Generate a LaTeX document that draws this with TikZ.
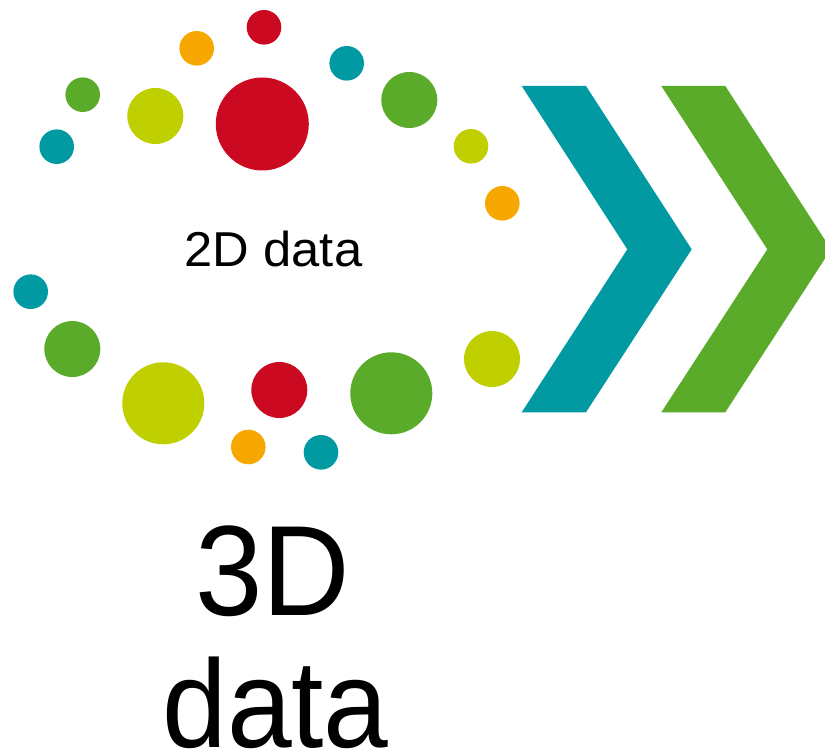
\documentclass[tikz,border=0pt]{standalone}
\usepackage{fontspec}
\setmainfont{Liberation Sans}
\definecolor{cred}{HTML}{CB0920}
\definecolor{cteal}{HTML}{0199A2}
\definecolor{cgreen}{HTML}{5AAB2A}
\definecolor{cyg}{HTML}{BFCF00}
\definecolor{corange}{HTML}{F6A800}
\begin{document}
\begin{tikzpicture}[x=1pt,y=-1pt,
  lbl/.style={inner sep=0pt,outer sep=0pt,anchor=base,text=black}]
\useasboundingbox (0,0) rectangle (825,749);
% top arc of dots
\fill[cred] (264,27.3) circle (17.3);
\fill[corange] (196.7,48.3) circle (17.3);
\fill[cteal] (346.7,63.3) circle (17.3);
\fill[cgreen] (82.7,94.7) circle (17.3);
\fill[cyg] (155.3,116) circle (28);
\fill[cred] (262.3,124) circle (46.5);
\fill[cgreen] (409.3,100) circle (28);
\fill[cteal] (56.7,146.7) circle (17.3);
\fill[cyg] (471,146.3) circle (17.3);
\fill[corange] (502.3,203.3) circle (17.3);
% bottom arc of dots
\fill[cteal] (30.7,291.7) circle (17.3);
\fill[cgreen] (72.3,349) circle (28);
\fill[cyg] (163.3,403.3) circle (41);
\fill[cred] (279.3,390) circle (28);
\fill[corange] (248.3,447) circle (17.3);
\fill[cteal] (321,452.3) circle (17.3);
\fill[cgreen] (391.3,393.3) circle (41);
\fill[cyg] (492,359) circle (28);
% chevrons
\fill[cteal] (521.7,86) -- (586,86) -- (691.7,249.3) -- (586,412.3) -- (521.7,412.3) -- (627.3,249.3) -- cycle;
\fill[cgreen] (661.3,86) -- (725.3,86) -- (825,240) -- (825,258.6) -- (725.3,412.3) -- (661.3,412.3) -- (767.3,249.3) -- cycle;
% texts
\node[lbl,font=\fontsize{49}{49}\selectfont] (twod) at (273.5,266.7) {\scalebox{1.035}[1]{2D data}};
\node[lbl,font=\fontsize{128.5}{132}\selectfont] (threed) at (272.5,615) {\scalebox{0.943}[1]{3D}};
\node[lbl,font=\fontsize{125}{132}\selectfont] (data) at (275.5,747) {\scalebox{0.93}[1]{data}};
\end{tikzpicture}
\end{document}
